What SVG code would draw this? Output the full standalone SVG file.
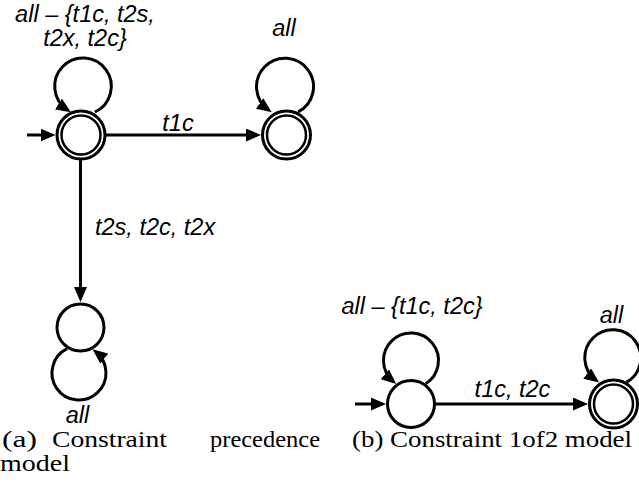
<svg xmlns="http://www.w3.org/2000/svg" width="639" height="492" viewBox="0 0 639 492">
<style>
.edge{fill:none;stroke:#000;stroke-width:3;marker-end:url(#ah)}
.node{fill:#fff;stroke:#000;stroke-width:3}
.inner{fill:none;stroke:#000;stroke-width:2.5}
.lbl{font-family:"Liberation Sans",Arial,sans-serif;font-style:italic;font-size:23.5px;fill:#000}
.cap{font-family:"Liberation Serif","Times New Roman",serif;font-size:24px;fill:#000}
</style>
<defs>
<marker id="ah" markerUnits="userSpaceOnUse" markerWidth="15" markerHeight="13" refX="11" refY="6.5" orient="auto" viewBox="0 0 15 13"><path d="M0,0 L15,6.5 L0,13 z" fill="#000"/></marker>
</defs>
<rect width="639" height="492" fill="#fff"/>
<g id="connectors">
<path class="edge" d="M27,135 H51.5"/>
<path class="edge" d="M105,135 H257"/>
<path class="edge" d="M80.5,159 V298"/>
<path class="edge" d="M94.9,112 A28.3,28.3 0 1 0 67.63,110.07"/>
<path class="edge" d="M298.1,112 A28.5,28.5 0 1 0 268.5,109.9"/>
<path class="edge" d="M67.2,348.7 A27,27 0 1 0 95.7,351.8"/>
<path class="edge" d="M355,404 H382"/>
<path class="edge" d="M435,404 H584"/>
<path class="edge" d="M425.65,383.76 A27.5,27.5 0 1 0 393.14,381.41"/>
<path class="edge" d="M626.26,382.35 A28,28 0 1 0 595.99,380.19"/>
</g>
<g id="a-start"><circle class="node" cx="81" cy="135" r="24"/><circle class="inner" cx="81" cy="135" r="19.5"/></g>
<g id="a-accept"><circle class="node" cx="286.5" cy="135" r="24"/><circle class="inner" cx="286.5" cy="135" r="19.5"/></g>
<g id="a-sink"><circle class="node" cx="80.5" cy="327.5" r="23.5"/></g>
<g id="b-start"><circle class="node" cx="411" cy="404" r="23.5"/></g>
<g id="b-accept"><circle class="node" cx="613.5" cy="404" r="24"/><circle class="inner" cx="613.5" cy="404" r="19.5"/></g>
<g id="labels">
<text class="lbl" x="85" y="21.5" text-anchor="middle" font-size="23">all – {t1c, t2s,</text>
<text class="lbl" x="85" y="46" text-anchor="middle" font-size="23">t2x, t2c}</text>
<text class="lbl" x="284" y="36" text-anchor="middle">all</text>
<text class="lbl" x="178" y="131" text-anchor="middle">t1c</text>
<text class="lbl" x="95" y="235">t2s, t2c, t2x</text>
<text class="lbl" x="77.5" y="423" text-anchor="middle">all</text>
<text class="lbl" x="412" y="314" text-anchor="middle">all – {t1c, t2c}</text>
<text class="lbl" x="611.5" y="323" text-anchor="middle">all</text>
<text class="lbl" x="512.5" y="396.5" text-anchor="middle">t1c, t2c</text>
</g>
<g id="captions">
<text class="cap" x="2" y="447" textLength="35" lengthAdjust="spacingAndGlyphs">(a)</text>
<text class="cap" x="52" y="447" textLength="115" lengthAdjust="spacingAndGlyphs">Constraint</text>
<text class="cap" x="210" y="447" textLength="110" lengthAdjust="spacingAndGlyphs">precedence</text>
<text class="cap" x="0" y="471" textLength="70" lengthAdjust="spacingAndGlyphs">model</text>
<text class="cap" x="352" y="447" textLength="280" lengthAdjust="spacingAndGlyphs">(b) Constraint 1of2 model</text>
</g>
</svg>
